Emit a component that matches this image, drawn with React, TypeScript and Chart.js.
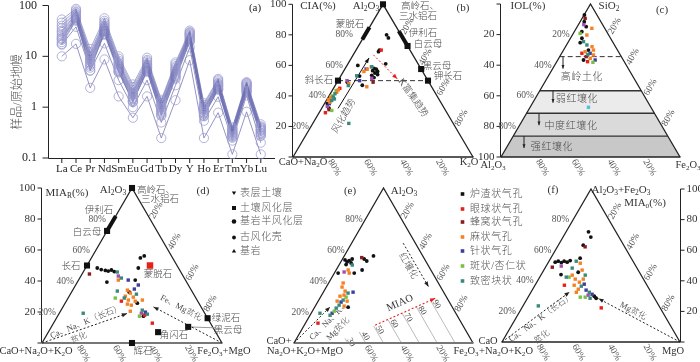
import React, { useEffect, useRef } from "react";
import { Chart, registerables } from "chart.js";

Chart.register(...registerables);

// ================= (a) REE spider diagram data =================
const reeElements = ["La", "Ce", "Pr", "Nd", "Sm", "Eu", "Gd", "Tb", "Dy", "Y", "Ho", "Er", "Tm", "Yb", "Lu"];
const reeTicks = [0.1, 1, 10, 100];
const reeS01 = [53, 86, 14, 56, 10, 2.8, 9.4, 1.4, 7.6, 32, 1.2, 3.6, 0.4, 3.1, 0.46];
const reeS02 = [46, 80, 12, 50, 9, 2.5, 8.5, 1.3, 7.0, 30, 1.1, 3.4, 0.38, 3.0, 0.42];
const reeS03 = [40, 75, 11, 46, 8.2, 2.2, 8.0, 1.2, 6.4, 29, 1.0, 3.2, 0.36, 2.9, 0.4];
const reeS04 = [36, 72, 10, 43, 7.6, 2.0, 7.5, 1.1, 6.0, 28, 0.95, 3.0, 0.35, 2.8, 0.39];
const reeS05 = [32, 68, 9.5, 40, 7.2, 1.9, 7.0, 1.05, 5.6, 27, 0.9, 2.9, 0.33, 2.7, 0.37];
const reeS06 = [30, 65, 9, 38, 6.8, 1.8, 6.8, 1.0, 5.3, 26, 0.88, 2.8, 0.32, 2.6, 0.36];
const reeS07 = [27, 62, 8.4, 36, 6.4, 1.7, 6.4, 0.95, 5.0, 25, 0.85, 2.7, 0.31, 2.5, 0.35];
const reeS08 = [25, 60, 8, 34, 6.0, 1.6, 6.2, 0.9, 4.8, 24, 0.8, 2.6, 0.3, 2.4, 0.34];
const reeS09 = [23, 57, 7.5, 32, 5.7, 1.5, 6.0, 0.85, 4.5, 23, 0.78, 2.5, 0.29, 2.3, 0.32];
const reeS10 = [21, 55, 7, 30, 5.4, 1.45, 5.8, 0.8, 4.3, 22, 0.75, 2.4, 0.28, 2.2, 0.31];
const reeS11 = [19, 52, 6.5, 28, 5.1, 1.35, 5.4, 0.75, 4.0, 21, 0.72, 2.3, 0.27, 2.1, 0.3];
const reeS12 = [17.5, 50, 6, 27, 4.8, 1.3, 5.0, 0.7, 3.6, 19, 0.68, 2.2, 0.26, 2.0, 0.28];
const reeS13 = [22, 58, 5.2, 31, 5.0, 1.25, 5.2, 0.68, 3.8, 20, 0.66, 2.25, 0.25, 1.95, 0.27];
const reeLow1 = [10, 17.6, 2.4, 8.7, 1.63, 0.62, 1.63, 0.247, 1.37, 8.4, 0.247, 0.78, 0.118, 0.81, 0.118];
const reeLow2 = [17, 38, 5.3, 18, 3.4, 1.0, 3.4, 0.5, 2.7, 15, 0.54, 1.6, 0.22, 1.7, 0.2];

// ================= legends =================
const layerNames = ["表层土壤", "土壤风化层", "基岩半风化层", "古风化壳", "基岩"];
const poreNames = ["炉渣状气孔", "眼球状气孔", "蜂窝状气孔", "麻状气孔", "针状气孔", "斑状/杏仁状", "致密块状"];
const poreColors = ["#111111", "#e8201c", "#8b1c1c", "#f58025", "#3c3f9e", "#79c143", "#3a8a7c"];
const extraColors = { purple: "#a24fb5", cyan: "#4fc3dc" };

// ================= ternary data: [top %, right %] =================
// (b) A-CN-K
const bBlack = [[80, 12], [78, 14], [70, 13], [69, 13], [61, 21], [60, 6], [56.5, 16], [55, 18], [54, 20], [53.5, 17], [57.5, 17.5], [56, 19], [53, 10.5], [47, 15], [52, 19], [32, 4], [35, 1.6], [49, 5.7], [58, 16]];
const bRed = [[70, 14], [29, 3.5], [45, 3.5]];
const bBrown = [[49, 20], [31, 4.5]];
const bOrange = [[46, 18], [59, 14], [57.5, 12.5], [37.5, 0.9], [39.2, 1.3], [44, 3.2], [42.4, 3.1], [35.9, 2.6], [56, 11.4], [48, 7]];
const bBlue = [[34.9, 2.7], [57.6, 11.8], [50, 12]];
const bGreen = [[30.5, 6.3], [43.5, 2.2], [40, 2]];
const bTeal = [[41.4, 2.6], [37, 3], [39.2, 2.8], [46.8, 7.3], [53.2, 8.8], [59.1, 14.2], [22, 20], [38, 4]];
const bPurple = [[33.1, 2.5], [50, 5], [51.5, 18]];
const bMinerals = [[100, 0], [50, 0], [50, 50], [72.7, 27.3], [57.6, 42.4]];
const bMontSeg = [[77, 0], [85, 0]];
const bIlliteSeg = [[73, 27], [82.5, 17.5]];
const bWeatherArrow = [[31.8, 9.1], [64.9, 9.8]];
const bKArrow = [[66.9, 11.2], [51.2, 32.3]];
const bDashed = [[50, 0], [50, 50]];

// (c) SiO2-Al2O3-Fe2O3
const cBlack = [[92.8, 0.2], [88.4, 2.3], [81.9, 4.2], [77.6, 6.4], [74.7, 6.9], [69.9, 13.9], [63.4, 14.4], [85.2, 5]];
const cRed = [[67.8, 11.3], [62.3, 17.2]];
const cBrown = [[90.6, 1.7], [65.6, 14.8]];
const cOrange = [[79.7, 8.1], [84.1, 8.7], [68.8, 12.6], [66.7, 18.3], [64.5, 17.6], [69.9, 16.7], [72.1, 14.8]];
const cBlue = [[67.8, 15.9], [63.4, 20.9]];
const cGreen = [[61.9, 20.4], [80.8, 3.8]];
const cTeal = [[75.4, 8.4], [73.2, 11.4], [67, 15]];
const cPurple = [[86.5, 3]];
const cCyan = [[32.5, 32.6]];
const cIOLBounds = [34.4, 56.7, 71.4, 86.3];
const cBandNames = ["高岭土化", "弱红壤化", "中度红壤化", "强红壤化"];

// (d) A-CNK-FM
const dBlack = [[48.4, 6.5], [47.4, 9.2], [46.8, 11.8], [46.4, 13.6], [47.1, 15], [46.1, 17.1], [39.3, 16.4], [40.6, 31.5], [56.2, 28.7], [48.4, 29.3], [54.9, 27.2], [32.8, 32.1], [25.7, 40.1], [17.3, 47.7]];
const dRed = [[27, 30.6], [12.8, 54.9], [18, 48]];
const dBrown = [[44.5, 4.1]];
const dOrange = [[40.6, 22.1], [34.1, 30.4], [32.2, 33], [30.2, 31.2], [29.6, 35.9], [27.7, 34.1], [27, 38.3], [24.4, 37.4], [25.1, 34.9], [27.7, 41.9], [20.5, 38.8]];
const dBlue = [[40.6, 27.6], [34.8, 33.9], [37.4, 34.8], [19.9, 47.5]];
const dGreen = [[29, 26.2], [17.3, 45.5]];
const dTeal = [[45.8, 18.9], [41.9, 23.1], [29, 31.2], [31.5, 36.7], [33.5, 25.1], [21.2, 45.1], [18.6, 49.2], [19.2, 13.3]];
const dPurple = [[43.2, 20.8], [19.2, 45.6]];
const dMinerals = [[100, 0], [72.3, 0], [50, 0], [16, 84], [10.4, 76], [7, 61], [0, 50]];
const dMontmorillonite = [[50, 35]];
const dIlliteSeg = [[73, 0], [82, 0]];
const dFeldsparArrow = [[0, 0], [19, 37.7]];
const dFeMgArrow = [[0, 100], [23.3, 50.3]];

// (e) A-CNKM-F
const eBlack = [[52.9, 14.2], [56.2, 16.3], [54.2, 12.1], [53.6, 1.7], [52.3, 3.5], [53.2, 4.2], [51.6, 6.1], [50.6, 3.8], [54.2, 5.4], [45.1, 2.1], [45.1, 11.1], [47.1, 14.5], [23.1, 18.7]];
const eRed = [[12.8, 7]];
const eBrown = [[55.1, 10.3]];
const eOrange = [[47.1, 6.7], [45.1, 8.3], [38.7, 8.1], [36.1, 8.8], [33.5, 11.8], [30.9, 12.5], [30.2, 10.6], [27, 16.2], [23.8, 16.1], [27, 10.6]];
const eBlue = [[32.8, 16.6], [26.4, 13.1], [19.2, 11.7]];
const eGreen = [[29.6, 14.3], [20.5, 12.2]];
const eTeal = [[50.3, 7.4], [32.2, 14.1], [27.7, 13.6], [24.4, 13], [22.5, 12.3], [17.9, 11.2], [19.2, 4.9]];
const ePurple = [[45.8, 5.1]];
const eLateriteArrow = [[64.4, 28.8], [36.3, 57]];
const eMIAOArrow = [[11.5, 39.6], [28.8, 64.5]];
const eDepleteArrow = [[0, 0], [23.3, 8.5]];
const eIsoMIAO = [30, 40, 50, 60, 70, 80, 90];
const eIsoTopA = [3, 7, 11, 15, 19, 23.5, 27.5];

// (f) AF-CNK-M
const fBlack = [[72, 12.6], [68.6, 15.6], [63.3, 14], [52.2, 3.8], [52.8, 5.2], [51.9, 7.4], [52.8, 8.5], [52.2, 10.5], [53.2, 11.7], [44.1, 11.1], [54.8, 16.5], [45.6, 20], [29.9, 36.9], [28.6, 38.6]];
const fRed = [[22.3, 44.6], [37.1, 16.5]];
const fBrown = [[62.2, 15.6], [48.9, 3.8]];
const fOrange = [[51.5, 18.2], [47, 21.5], [43.7, 17.6], [41.1, 20.6], [39.1, 23.9], [41.1, 25.1], [37.1, 22], [34.5, 25.6], [32.5, 25.5]];
const fBlue = [[37.8, 27.3], [33.9, 30.3], [31.2, 35]];
const fGreen = [[42.4, 16.5], [29.3, 32.1], [29.3, 29.3]];
const fTeal = [[52.8, 15.3], [48.3, 15.3], [43.7, 24.9], [42.4, 14.9], [36.5, 26.3], [32.5, 32.8], [28.6, 35.2], [23.6, 8.6]];
const fPurple = [[49.6, 8.5], [30.6, 33.1]];
const fFeldsparArrow = [[0, 0], [32.7, 21.6]];
const fMgArrow = [[0, 100], [28.4, 40]];

// ================= drawing helpers =================
const FONT = '"Liberation Serif","DejaVu Serif","Noto Sans CJK SC",serif';
const CJK_RE = /[\u3000-\u9fff\uff00-\uffef]/;

function drawRich(ctx: any, l: any) {
  const size = l.s ?? 10;
  const segs: any[] = [];
  for (let i = 0; i < l.t.length; i++) {
    const ch = l.t[i];
    if (ch === "_" && i + 1 < l.t.length) {
      segs.push({ t: l.t[i + 1], sub: true });
      i++;
    } else {
      const last = segs[segs.length - 1];
      if (last && !last.sub) last.t += ch;
      else segs.push({ t: ch, sub: false });
    }
  }
  const hasCJK = CJK_RE.test(l.t);
  const weight = hasCJK ? "300 " : "";
  ctx.save();
  ctx.fillStyle = l.c ?? (hasCJK ? "#4a4a4a" : "#333");
  ctx.textBaseline = "middle";
  ctx.textAlign = "left";
  try { ctx.letterSpacing = (l.ls ?? 0) + "px"; } catch (e) {}
  const fm = weight + size + "px " + FONT;
  const fs = weight + (size * 0.68).toFixed(1) + "px " + FONT;
  let w = 0;
  const ws = segs.map((sg) => {
    ctx.font = sg.sub ? fs : fm;
    const m = ctx.measureText(sg.t).width;
    w += m;
    return m;
  });
  ctx.translate(l.x, l.y);
  if (l.rot) ctx.rotate((l.rot * Math.PI) / 180);
  let x0 = l.al === "right" ? -w : l.al === "left" ? 0 : -w / 2;
  segs.forEach((sg, i) => {
    ctx.font = sg.sub ? fs : fm;
    ctx.fillText(sg.t, x0, sg.sub ? size * 0.28 : 0);
    x0 += ws[i];
  });
  ctx.restore();
}

function seg(ctx: any, a: number[], b: number[], color: string, width: number, dash: number[] = []) {
  ctx.save();
  ctx.strokeStyle = color;
  ctx.lineWidth = width;
  ctx.setLineDash(dash);
  ctx.beginPath();
  ctx.moveTo(a[0], a[1]);
  ctx.lineTo(b[0], b[1]);
  ctx.stroke();
  ctx.restore();
}

function arrow(ctx: any, a: number[], b: number[], color: string, width: number, dash: number[], head = 5.5) {
  seg(ctx, a, b, color, width, dash);
  const ang = Math.atan2(b[1] - a[1], b[0] - a[0]);
  ctx.save();
  ctx.fillStyle = color;
  ctx.beginPath();
  ctx.moveTo(b[0], b[1]);
  ctx.lineTo(b[0] - head * Math.cos(ang - 0.38), b[1] - head * Math.sin(ang - 0.38));
  ctx.lineTo(b[0] - head * Math.cos(ang + 0.38), b[1] - head * Math.sin(ang + 0.38));
  ctx.closePath();
  ctx.fill();
  ctx.restore();
}

function tri(ctx: any, P: any, baseColor = "#222", baseWidth = 1.3) {
  const bl = P(0, 0), ap = P(100, 0), br = P(0, 100);
  ctx.save();
  ctx.strokeStyle = "#222";
  ctx.lineWidth = 1.3;
  ctx.beginPath();
  ctx.moveTo(bl[0], bl[1]);
  ctx.lineTo(ap[0], ap[1]);
  ctx.lineTo(br[0], br[1]);
  ctx.stroke();
  ctx.strokeStyle = baseColor;
  ctx.lineWidth = baseWidth;
  ctx.beginPath();
  ctx.moveTo(bl[0] - 0.5, bl[1]);
  ctx.lineTo(br[0] + 0.5, br[1]);
  ctx.stroke();
  ctx.restore();
}

function vAxis(ctx: any, ch: any, side: string, vals: number[], lab: (v: number) => string | null) {
  const ys = ch.scales.y;
  const x = side === "left" ? ch.chartArea.left - 0.5 : ch.chartArea.right + 0.5;
  ctx.save();
  ctx.strokeStyle = "#222";
  ctx.lineWidth = 1;
  ctx.beginPath();
  ctx.moveTo(x, ys.getPixelForValue(0));
  ctx.lineTo(x, ys.getPixelForValue(100));
  ctx.stroke();
  vals.forEach((v) => {
    const y = ys.getPixelForValue(v);
    const d = side === "left" ? -4 : 4;
    ctx.beginPath();
    ctx.moveTo(x, y);
    ctx.lineTo(x + d, y);
    ctx.stroke();
    const t = lab(v);
    if (t) drawRich(ctx, { t, x: x + (side === "left" ? -6 : 6), y, s: 11, al: side === "left" ? "right" : "left", c: "#333" });
  });
  ctx.restore();
}

function edgePct(ctx: any, P: any, left: any[], rightKs: number[], bottomKs: number[]) {
  left.forEach(([A, t, off]) => {
    const p = P(A, 0);
    drawRich(ctx, { t, x: p[0] - off, y: p[1], s: 9.5, al: "right", c: "#555" });
  });
  rightKs.forEach((k) => {
    const p = P(100 - k, k);
    drawRich(ctx, { t: k + "%", x: p[0] + 2, y: p[1] - 1, s: 9.5, al: "left", rot: -60, c: "#555" });
  });
  bottomKs.forEach((k) => {
    const p = P(0, 100 - k);
    drawRich(ctx, { t: k + "%", x: p[0] + 1, y: p[1] + 3, s: 9.5, al: "left", rot: 60, c: "#555" });
  });
}

const CJK = 9.5;
function texts(ctx: any, list: any[]) {
  list.forEach((l) => drawRich(ctx, { s: CJK, ...l }));
}

function drawLegends(ctx: any) {
  const layerY = [193, 208, 221.5, 237.5, 251];
  const shapes = ["down", "rect", "bigcircle", "circle", "up"];
  layerNames.forEach((n, i) => {
    const x = 234, y = layerY[i];
    ctx.save();
    ctx.fillStyle = "#111";
    ctx.beginPath();
    const s = shapes[i];
    if (s === "down") { ctx.moveTo(x - 2.2, y - 1.6); ctx.lineTo(x + 2.2, y - 1.6); ctx.lineTo(x, y + 2); }
    else if (s === "up") { ctx.moveTo(x - 2.2, y + 1.6); ctx.lineTo(x + 2.2, y + 1.6); ctx.lineTo(x, y - 2); }
    else if (s === "rect") { ctx.rect(x - 2, y - 2, 4, 4); }
    else if (s === "bigcircle") { ctx.arc(x, y, 2.3, 0, Math.PI * 2); }
    else { ctx.arc(x, y, 1.9, 0, Math.PI * 2); }
    ctx.closePath();
    ctx.fill();
    ctx.restore();
    drawRich(ctx, { t: n, x: 240, y, s: 10, al: "left", c: "#555", ls: 0.6 });
  });
  const poreY = [194, 209, 222, 237, 251, 266, 281];
  poreNames.forEach((n, i) => {
    const x = 462.5, y = poreY[i];
    ctx.save();
    ctx.fillStyle = poreColors[i];
    ctx.fillRect(x - 1.8, y - 1.8, 3.6, 3.6);
    ctx.restore();
    drawRich(ctx, { t: n, x: 470, y, s: 10, al: "left", c: "#555", ls: 0.6 });
  });
}

// ================= panels =================
const C = poreColors;
const panels: any[] = [
  {
    id: "b",
    pad: { left: 293, top: 3, right: 227, bottom: 205 },
    groups: [
      { d: bTeal, c: C[6] }, { d: bOrange, c: C[3] }, { d: bGreen, c: C[5] }, { d: bBlue, c: C[4] },
      { d: bPurple, c: extraColors.purple }, { d: bBrown, c: C[2] }, { d: bRed, c: C[1] },
      { d: bBlack, c: C[0], st: "circle", r: 1.9 },
      { d: bMinerals, c: "#111", st: "rect", r: 4.3 },
    ],
    under: (ctx: any, P: any, ch: any) => {
      vAxis(ctx, ch, "left", [0, 20, 40, 60, 80, 100], (v) => (v === 0 ? null : String(v)));
      seg(ctx, P(bDashed[0][0], bDashed[0][1]), P(bDashed[1][0], bDashed[1][1]), "#333", 1, [5, 3]);
      tri(ctx, P);
      seg(ctx, P(bMontSeg[0][0], bMontSeg[0][1]), P(bMontSeg[1][0], bMontSeg[1][1]), "#111", 4);
      seg(ctx, P(bIlliteSeg[0][0], bIlliteSeg[0][1]), P(bIlliteSeg[1][0], bIlliteSeg[1][1]), "#111", 4);
      arrow(ctx, P(bWeatherArrow[0][0], bWeatherArrow[0][1]), P(bWeatherArrow[1][0], bWeatherArrow[1][1]), "#111", 1, []);
      arrow(ctx, P(bKArrow[0][0], bKArrow[0][1]), P(bKArrow[1][0], bKArrow[1][1]), "#e8201c", 1, [2, 2]);
      edgePct(ctx, P, [[80, "80%", 12], [60, "60%", 4], [40, "40%", 3], [20, "20%", 2]], [20, 40, 60, 80], [80, 60, 40, 20]);
      texts(ctx, [
        { t: "CIA(%)", x: 318, y: 6, s: 11 },
        { t: "Al_2O_3", x: 366, y: 6, s: 11 },
        { t: "高岭石、", x: 420, y: 6 },
        { t: "三水铝石", x: 418, y: 16 },
        { t: "(b)", x: 463, y: 8, s: 11 },
        { t: "蒙脱石", x: 350, y: 24 },
        { t: "伊利石", x: 423, y: 33 },
        { t: "白云母", x: 428, y: 44 },
        { t: "黑云母", x: 437, y: 66 },
        { t: "钾长石", x: 448, y: 76.5 },
        { t: "斜长石", x: 319, y: 80 },
        { t: "风化趋势", x: 344, y: 116, rot: -60 },
        { t: "K富集趋势", x: 413, y: 98, rot: 55 },
        { t: "CaO+Na_2O", x: 303, y: 162, s: 10.5 },
        { t: "K_2O", x: 469, y: 162, s: 10.5 },
      ]);
    },
  },
  {
    id: "c",
    pad: { left: 501, top: 4, right: 20, bottom: 205 },
    groups: [
      { d: cTeal, c: C[6] }, { d: cOrange, c: C[3] }, { d: cGreen, c: C[5] }, { d: cBlue, c: C[4] },
      { d: cPurple, c: extraColors.purple }, { d: cBrown, c: C[2] }, { d: cRed, c: C[1] },
      { d: cBlack, c: C[0], st: "circle", r: 1.9 }, { d: cCyan, c: extraColors.cyan },
    ],
    under: (ctx: any, P: any, ch: any) => {
      const A = cIOLBounds.map((v) => 100 - v);
      const fills = ["#ebebeb", "#dadada", "#c8c8c8"];
      for (let i = 1; i < 4; i++) {
        const hi = A[i], lo = i + 1 < 4 ? A[i + 1] : 0;
        const pts = [P(hi, 0), P(hi, 100 - hi), P(lo, 100 - lo), P(lo, 0)];
        ctx.save();
        ctx.fillStyle = fills[i - 1];
        ctx.beginPath();
        pts.forEach((p, j) => (j ? ctx.lineTo(p[0], p[1]) : ctx.moveTo(p[0], p[1])));
        ctx.closePath();
        ctx.fill();
        ctx.restore();
      }
      vAxis(ctx, ch, "left", [100, 80, 60, 40, 20, 0], (v) => (v === 100 ? null : String(100 - v)));
      seg(ctx, P(A[0], 0), P(A[0], 100 - A[0]), "#333", 1, [5, 3]);
      for (let i = 1; i < 4; i++) seg(ctx, P(A[i], 0), P(A[i], 100 - A[i]), "#333", 1.3);
      tri(ctx, P);
      const ax = [563, 553, 539, 524];
      A.forEach((a, i) => {
        const y = ch.scales.y.getPixelForValue(a);
        arrow(ctx, [ax[i], y], [ax[i], y + 12], "#222", 1, [], 4);
      });
      const lblX = [582, 577, 571, 552], lblY = [77, 99, 126, 147];
      cBandNames.forEach((n, i) => drawRich(ctx, { t: n, x: lblX[i], y: lblY[i], s: 10, ls: 0.6 }));
      edgePct(ctx, P, [[80, "20%", 3], [60, "40%", 3], [40, "60%", 3], [20, "80%", 3]], [20, 40, 60, 80], [80, 60, 40, 20]);
      texts(ctx, [
        { t: "IOL(%)", x: 528, y: 6, s: 11 },
        { t: "SiO_2", x: 609, y: 6, s: 11 },
        { t: "(c)", x: 662, y: 10, s: 11 },
        { t: "Al_2O_3", x: 493, y: 165, s: 10.5 },
        { t: "Fe_2O_3", x: 688, y: 165, s: 10.5 },
      ]);
    },
  },
  {
    id: "d",
    pad: { left: 42, top: 188, right: 478, bottom: 19 },
    groups: [
      { d: dTeal, c: C[6] }, { d: dOrange, c: C[3] }, { d: dGreen, c: C[5] }, { d: dBlue, c: C[4] },
      { d: dPurple, c: extraColors.purple }, { d: dBrown, c: C[2] }, { d: dRed, c: C[1] },
      { d: dBlack, c: C[0], st: "circle", r: 1.9 },
      { d: dMinerals, c: "#111", st: "rect", r: 4.3 },
      { d: dMontmorillonite, c: "#e8201c", st: "rect", r: 4.6 },
    ],
    under: (ctx: any, P: any, ch: any) => {
      vAxis(ctx, ch, "left", [0, 20, 40, 60, 80, 100], (v) => (v === 0 ? null : String(v)));
      tri(ctx, P, "#777", 2.2);
      seg(ctx, P(dIlliteSeg[0][0], dIlliteSeg[0][1]), P(dIlliteSeg[1][0], dIlliteSeg[1][1]), "#111", 4);
      const bio = P(dMinerals[4][0], dMinerals[4][1]);
      seg(ctx, bio, [bio[0] + 28, bio[1] + 1], "#999", 1);
      arrow(ctx, P(dFeldsparArrow[0][0], dFeldsparArrow[0][1]), P(dFeldsparArrow[1][0], dFeldsparArrow[1][1]), "#222", 1, [2, 2]);
      arrow(ctx, P(dFeMgArrow[0][0], dFeMgArrow[0][1]), P(dFeMgArrow[1][0], dFeMgArrow[1][1]), "#222", 1, [2, 2]);
      edgePct(ctx, P, [[80, "80%", 8], [60, "60%", 6], [40, "40%", 4], [20, "20%", 4]], [20, 40, 60, 80], [80, 60, 40, 20]);
      texts(ctx, [
        { t: "MIA_R(%)", x: 67, y: 193, s: 11 },
        { t: "Al_2O_3", x: 113, y: 190, s: 11 },
        { t: "高岭石、", x: 156, y: 190 },
        { t: "三水铝石", x: 160, y: 199.5 },
        { t: "(d)", x: 203, y: 191, s: 11 },
        { t: "伊利石", x: 99, y: 210 },
        { t: "白云母", x: 87, y: 232 },
        { t: "长石", x: 71, y: 266 },
        { t: "蒙脱石", x: 158, y: 274 },
        { t: "绿泥石", x: 226, y: 318 },
        { t: "黑云母", x: 228, y: 330 },
        { t: "角闪石", x: 174, y: 335 },
        { t: "辉石", x: 143, y: 351 },
        { t: "CaO+Na_2O+K_2O", x: 36, y: 351, s: 10.5 },
        { t: "Fe_2O_3+MgO", x: 224, y: 351, s: 10.5 },
        { t: "Ca、Na、K（长石）", x: 86, y: 322, rot: -22, s: 8.5 },
        { t: "贫化", x: 79, y: 338, rot: -22, s: 8.5 },
        { t: "Fe、Mg贫化", x: 181, y: 308, rot: 28, s: 8.5 },
      ]);
      drawLegends(ctx);
    },
  },
  {
    id: "e",
    pad: { left: 294, top: 188, right: 227, bottom: 19 },
    groups: [
      { d: eTeal, c: C[6] }, { d: eOrange, c: C[3] }, { d: eGreen, c: C[5] }, { d: eBlue, c: C[4] },
      { d: ePurple, c: extraColors.purple }, { d: eBrown, c: C[2] }, { d: eRed, c: C[1] },
      { d: eBlack, c: C[0], st: "circle", r: 1.9 },
    ],
    under: (ctx: any, P: any, ch: any) => {
      eIsoMIAO.forEach((m, i) => {
        const a = eIsoTopA[i];
        const base = P(0, m), top = P(a, m - a);
        seg(ctx, base, top, "#aaa", 0.8);
        drawRich(ctx, { t: String(m), x: top[0] + 6, y: top[1] + 4, s: 8.5, rot: 60, c: "#444" });
      });
      tri(ctx, P, "#777", 2.2);
      arrow(ctx, P(eLateriteArrow[0][0], eLateriteArrow[0][1]), P(eLateriteArrow[1][0], eLateriteArrow[1][1]), "#222", 1, [2, 2]);
      arrow(ctx, P(eMIAOArrow[0][0], eMIAOArrow[0][1]), P(eMIAOArrow[1][0], eMIAOArrow[1][1]), "#e8201c", 1.1, [2, 2]);
      arrow(ctx, P(eDepleteArrow[0][0], eDepleteArrow[0][1]), P(eDepleteArrow[1][0], eDepleteArrow[1][1]), "#222", 1, [2, 2]);
      edgePct(ctx, P, [[80, "80%", 3], [60, "60%", 3], [40, "40%", 3], [20, "20%", 3]], [20, 40, 60, 80], [60, 40, 20]);
      texts(ctx, [
        { t: "(e)", x: 350, y: 191, s: 11 },
        { t: "Al_2O_3", x: 404, y: 191, s: 11 },
        { t: "CaO+", x: 279, y: 341, s: 10.5 },
        { t: "Na_2O+K_2O+MgO", x: 305, y: 351, s: 10.5 },
        { t: "Fe_2O_3", x: 466, y: 351, s: 10.5 },
        { t: "红壤化", x: 408, y: 266, rot: 60 },
        { t: "MIAO", x: 400, y: 303, rot: -24, s: 10.5 },
        { t: "Ca、Na、K、", x: 329, y: 321, rot: -45, s: 8.5 },
        { t: "Mg贫化", x: 338, y: 329, rot: -45, s: 8.5 },
      ]);
    },
  },
  {
    id: "f",
    pad: { left: 502, top: 189, right: 20, bottom: 20 },
    groups: [
      { d: fTeal, c: C[6] }, { d: fOrange, c: C[3] }, { d: fGreen, c: C[5] }, { d: fBlue, c: C[4] },
      { d: fPurple, c: extraColors.purple }, { d: fBrown, c: C[2] }, { d: fRed, c: C[1] },
      { d: fBlack, c: C[0], st: "circle", r: 1.9 },
    ],
    under: (ctx: any, P: any, ch: any) => {
      vAxis(ctx, ch, "right", [0, 20, 40, 60, 80, 100], (v) => (v === 0 ? null : String(v)));
      tri(ctx, P);
      arrow(ctx, P(fFeldsparArrow[0][0], fFeldsparArrow[0][1]), P(fFeldsparArrow[1][0], fFeldsparArrow[1][1]), "#222", 1, [2, 2]);
      arrow(ctx, P(fMgArrow[0][0], fMgArrow[0][1]), P(fMgArrow[1][0], fMgArrow[1][1]), "#222", 1, [2, 2]);
      edgePct(ctx, P, [[80, "80%", 4], [60, "60%", 4], [40, "40%", 4], [20, "20%", 4]], [20, 40, 60, 80], [80, 60, 40, 20]);
      texts(ctx, [
        { t: "(f)", x: 553, y: 190, s: 11 },
        { t: "Al_2O_3+Fe_2O_3", x: 621, y: 190, s: 11 },
        { t: "MIA_o(%)", x: 645, y: 203, s: 11 },
        { t: "CaO", x: 488, y: 341, s: 10.5 },
        { t: "+Na_2O+K_2O", x: 506, y: 351, s: 10.5 },
        { t: "MgO", x: 673, y: 351, s: 10.5 },
        { t: "Ca、Na、K（长石）", x: 541, y: 318, rot: -36, s: 8.5 },
        { t: "贫化", x: 542, y: 337, rot: -36, s: 8.5 },
        { t: "Mg贫化", x: 633, y: 311, rot: 28, s: 8.5 },
      ]);
    },
  },
];

function makeTernary(canvas: HTMLCanvasElement, p: any) {
  const datasets = p.groups.map((g: any) => ({
    data: g.d.map((v: number[]) => ({ x: v[1] + v[0] / 2, y: v[0] })),
    pointStyle: g.st ?? "rect",
    pointRadius: g.r ?? 2.4,
    backgroundColor: g.c,
    borderColor: g.c,
    pointBorderWidth: 0,
    borderWidth: 0,
    clip: false,
  }));
  const getP = (chart: any) => (A: number, Cc: number) => [
    chart.scales.x.getPixelForValue(Cc + A / 2),
    chart.scales.y.getPixelForValue(A),
  ];
  return new Chart(canvas, {
    type: "scatter",
    data: { datasets },
    options: {
      animation: false,
      responsive: false,
      devicePixelRatio: 1,
      events: [],
      layout: { padding: p.pad },
      plugins: { legend: { display: false }, tooltip: { enabled: false } },
      scales: {
        x: { type: "linear", min: 0, max: 100, display: false },
        y: { type: "linear", min: 0, max: 100, display: false },
      },
    } as any,
    plugins: [
      {
        id: "decor_" + p.id,
        beforeDatasetsDraw(chart: any) {
          p.under(chart.ctx, getP(chart), chart);
        },
      },
    ],
  });
}

function makeSpider(canvas: HTMLCanvasElement) {
  const series = [reeS01, reeS02, reeS03, reeS04, reeS05, reeS06, reeS07, reeS08, reeS09, reeS10, reeS11, reeS12, reeS13, reeLow2, reeLow1];
  const datasets = series.map((s, i) => ({
    data: s.map((v, j) => ({ x: j, y: v })),
    borderColor: i >= 13 ? "rgba(130,130,185,0.85)" : "rgba(108,110,178,0.6)",
    borderWidth: 1,
    pointRadius: 4.6,
    pointStyle: "circle",
    pointBorderWidth: 0.9,
    pointBorderColor: "rgba(155,155,208,0.85)",
    pointBackgroundColor: "rgba(0,0,0,0)",
    tension: 0,
    fill: false,
    clip: false,
  }));
  return new Chart(canvas, {
    type: "line",
    data: { datasets },
    options: {
      animation: false,
      responsive: false,
      devicePixelRatio: 1,
      events: [],
      layout: { padding: { left: 49, top: 3, right: 425, bottom: 204 } },
      plugins: { legend: { display: false }, tooltip: { enabled: false } },
      scales: {
        x: { type: "linear", min: -0.9, max: 15, display: false },
        y: { type: "logarithmic", min: 0.1, max: 100, display: false },
      },
    } as any,
    plugins: [
      {
        id: "spiderAxes",
        beforeDatasetsDraw(chart: any) {
          const ctx = chart.ctx;
          const ca = chart.chartArea;
          const xs = chart.scales.x, ys = chart.scales.y;
          ctx.save();
          ctx.strokeStyle = "#222";
          ctx.lineWidth = 1;
          ctx.beginPath();
          ctx.moveTo(ca.left - 0.5, ca.top);
          ctx.lineTo(ca.left - 0.5, ca.bottom + 0.5);
          ctx.lineTo(ca.right, ca.bottom + 0.5);
          ctx.stroke();
          reeTicks.forEach((v) => {
            const y = ys.getPixelForValue(v);
            ctx.beginPath();
            ctx.moveTo(ca.left - 0.5, y);
            ctx.lineTo(ca.left - 6.5, y);
            ctx.stroke();
            drawRich(ctx, { t: String(v), x: ca.left - 12, y, s: 12, al: "right", c: "#222" });
          });
          reeElements.forEach((e, j) => {
            const x = xs.getPixelForValue(j);
            ctx.beginPath();
            ctx.moveTo(x, ca.bottom + 0.5);
            ctx.lineTo(x, ca.bottom + 5);
            ctx.stroke();
            drawRich(ctx, { t: e, x, y: ca.bottom + 11, s: 11, c: "#222" });
          });
          ctx.restore();
          drawRich(ctx, { t: "样品/原始地幔", x: 18, y: 92, s: 12, rot: -90, c: "#555" });
          drawRich(ctx, { t: "(a)", x: 255, y: 8, s: 11, c: "#222" });
        },
      },
    ],
  });
}

export default function App() {
  const refs = useRef<(HTMLCanvasElement | null)[]>([]);
  useEffect(() => {
    const charts: Chart[] = [];
    charts.push(makeSpider(refs.current[0] as HTMLCanvasElement));
    panels.forEach((p, i) => charts.push(makeTernary(refs.current[i + 1] as HTMLCanvasElement, p)));
    return () => charts.forEach((c) => c.destroy());
  }, []);
  return (
    <div style={{ position: "fixed", left: 0, top: 0, width: 700, height: 362, background: "#fff", overflow: "hidden" }}>
      {[0, 1, 2, 3, 4, 5].map((i) => (
        <canvas
          key={i}
          ref={(el) => {
            refs.current[i] = el;
          }}
          width={700}
          height={362}
          style={{ position: "absolute", left: 0, top: 0, width: 700, height: 362 }}
        />
      ))}
    </div>
  );
}
